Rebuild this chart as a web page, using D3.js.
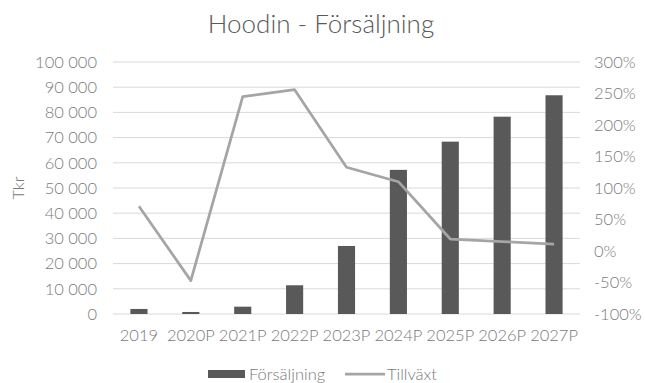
<!DOCTYPE html>
<html><head><meta charset="utf-8">
<script src="https://cdn.jsdelivr.net/npm/d3@7"></script>
<style>
body{margin:0;background:#fff;}
text{font-family:Lato,"Open Sans",sans-serif;font-weight:300;}
</style></head>
<body><svg id="c" width="645" height="383"></svg>
<script>
const categories = ["2019","2020P","2021P","2022P","2023P","2024P","2025P","2026P","2027P"];
const sales = [2000, 800, 2900, 11400, 27000, 57200, 68400, 78300, 86800];
const growth = [0.71, -0.47, 2.45, 2.56, 1.33, 1.10, 0.19, 0.15, 0.11];
const leftTicks = [0,10000,20000,30000,40000,50000,60000,70000,80000,90000,100000];
const rightTicks = [-1,-0.5,0,0.5,1,1.5,2,2.5,3];

const svg = d3.select("#c");
const L = 113, R = 580, T = 62, B = 314;
const x = d3.scaleBand().domain(categories).range([L, R]).paddingInner(0.67).paddingOuter(0.335);
const y = d3.scaleLinear().domain([0, 100000]).range([B, T]);
const y2 = d3.scaleLinear().domain([-1, 3]).range([B, T]);
const txt = "#7a7a7a";
const fs = "16.5px";

// gridlines
svg.append("g").selectAll("line").data(leftTicks).join("line")
  .attr("x1", L).attr("x2", R).attr("y1", d => y(d)).attr("y2", d => y(d))
  .attr("stroke", "#d9d9d9").attr("stroke-width", 1);

// left axis
const la = svg.append("g").attr("transform", `translate(${L-16},0)`)
  .call(d3.axisLeft(y).tickValues(leftTicks).tickSize(0).tickPadding(0).tickFormat(d => d3.format(",")(d).replace(/,/g, " ")));
la.select(".domain").remove();
la.selectAll("text").attr("fill", txt).style("font-size", fs);

// right axis
const ra = svg.append("g").attr("transform", `translate(${R+14},0)`)
  .call(d3.axisRight(y2).tickValues(rightTicks).tickSize(0).tickPadding(0).tickFormat(d => d3.format(".0%")(d).replace("−","-")));
ra.select(".domain").remove();
ra.selectAll("text").attr("fill", txt).style("font-size", fs);

// bottom axis labels
const ba = svg.append("g").attr("transform", `translate(0,${B})`)
  .call(d3.axisBottom(x).tickSize(0).tickPadding(15));
ba.select(".domain").remove();
ba.selectAll("text").attr("fill", txt).style("font-size", fs);

// bars
svg.append("g").selectAll("rect").data(sales).join("rect")
  .attr("x", (d,i) => x(categories[i])).attr("width", x.bandwidth())
  .attr("y", d => y(d)).attr("height", d => B - y(d)).attr("fill", "#595959");

// line
const line = d3.line().x((d,i) => x(categories[i]) + x.bandwidth()/2).y(d => y2(d));
svg.append("path").datum(growth).attr("d", line).attr("fill", "none")
  .attr("stroke", "#a5a5a5").attr("stroke-width", 2.75).attr("stroke-linejoin", "round");

// title
svg.append("text").attr("x", 321).attr("y", 33).attr("text-anchor", "middle")
  .attr("fill", "#595959").style("font-size", "26px").text("Hoodin - Försäljning");

// y title
svg.append("text").attr("transform", "translate(24,188) rotate(-90)").attr("text-anchor", "middle")
  .attr("fill", txt).style("font-size", fs).text("Tkr");

// legend
const lg = svg.append("g");
lg.append("rect").attr("x", 208).attr("y", 370).attr("width", 37).attr("height", 8).attr("fill", "#595959");
lg.append("text").attr("x", 249).attr("y", 380).attr("fill", txt).style("font-size", fs).text("Försäljning");
lg.append("line").attr("x1", 345).attr("x2", 385).attr("y1", 374).attr("y2", 374).attr("stroke", "#a5a5a5").attr("stroke-width", 2.75);
lg.append("text").attr("x", 387).attr("y", 380).attr("fill", txt).style("font-size", fs).text("Tillväxt");
</script></body></html>
